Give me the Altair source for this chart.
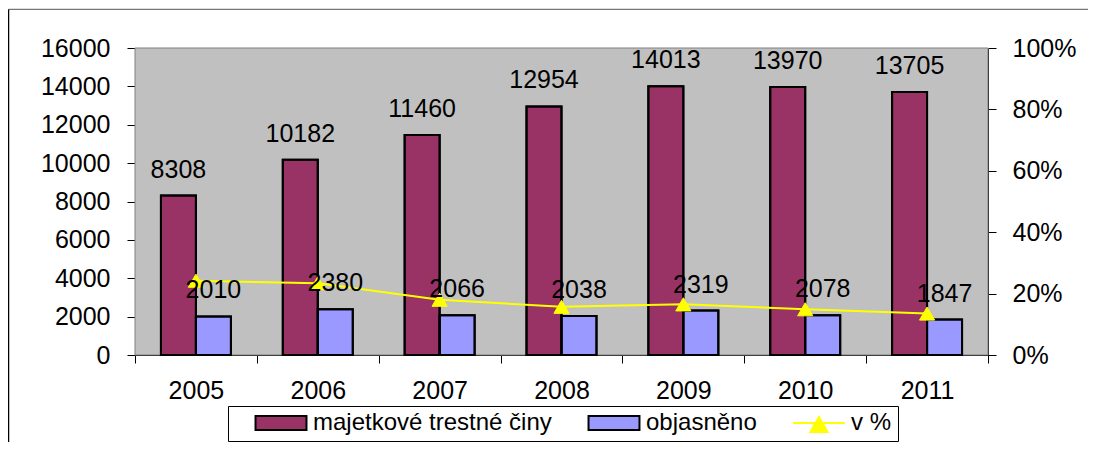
import altair as alt
import pandas as pd

FONT = "Liberation Sans"

years = ["2005", "2006", "2007", "2008", "2009", "2010", "2011"]
majetkove = [8308, 10182, 11460, 12954, 14013, 13970, 13705]
objasneno = [2010, 2380, 2066, 2038, 2319, 2078, 1847]
v_pct = [0.242, 0.234, 0.180, 0.157, 0.165, 0.149, 0.135]

S_MAJ = "majetkové trestné činy"
S_OBJ = "objasněno"
S_PCT = "v %"
series_names = [S_MAJ, S_OBJ, S_PCT]
fill_colors = ["#993366", "#9999FF", "#FFFF00"]
stroke_colors = ["#000000", "#000000", "#FFFF00"]

left_ticks = [0, 2000, 4000, 6000, 8000, 10000, 12000, 14000, 16000]
right_ticks = [0, 0.2, 0.4, 0.6, 0.8, 1.0]

bars_df = pd.DataFrame({
    "year": years + years,
    "series": [S_MAJ] * len(years) + [S_OBJ] * len(years),
    "value": majetkove + objasneno,
})
pct_df = pd.DataFrame({"year": years, "series": [S_PCT] * len(years), "pct": v_pct})
legend_df = pd.DataFrame({"series": series_names})

RECT_PATH = "M-0.98,-0.27H0.98V0.27H-0.98Z"
LINE_TRI_PATH = "M-1,0H1M-0.33,0.35L0,-0.23L0.33,0.35Z"

W, H = 853, 307
PAD = {"left": 127, "top": 40, "right": 100, "bottom": 87}

x_scale = alt.Scale(domain=years, paddingInner=0, paddingOuter=0)
xoff_scale = alt.Scale(domain=[S_MAJ, S_OBJ], paddingInner=0, paddingOuter=0.741)
fill_scale = alt.Scale(domain=series_names, range=fill_colors)
stroke_scale = alt.Scale(domain=series_names, range=stroke_colors)
shape_scale = alt.Scale(domain=series_names, range=[RECT_PATH, RECT_PATH, LINE_TRI_PATH])

x_axis = alt.Axis(title=None, labelAngle=0, labelPadding=15, ticks=True, tickBand="extent",
                  tickSize=8, domainColor="black", tickColor="black", tickWidth=1)
x_enc = alt.X("year:N", scale=x_scale, axis=x_axis)

y_scale_left = alt.Scale(domain=[0, 16000], nice=False, zero=True)
y_left = alt.Y("value:Q", scale=y_scale_left,
               axis=alt.Axis(title=None, orient="left", values=left_ticks, format="d",
                             labelPadding=17, tickSize=8, grid=False, labelOverlap=False))
y_right = alt.Y("pct:Q", scale=alt.Scale(domain=[0, 1], nice=False),
                axis=alt.Axis(title=None, orient="right", values=right_ticks, format=".0%",
                              labelPadding=16, tickSize=8, grid=False, labelOverlap=False))

fill_enc = alt.Fill("series:N", scale=fill_scale, title=None)
stroke_enc = alt.Stroke("series:N", scale=stroke_scale, title=None)

frame_df = pd.DataFrame({"k": [0]})

# outer chart frame (left and top edges, kept inside the drawing) and grey plot background
frame_left = alt.Chart(frame_df).mark_rule(color="#000000", strokeWidth=1.5).encode(
    x=alt.value(-126.5), y=alt.value(-38.7), y2=alt.value(H + PAD["bottom"])
)
frame_top = alt.Chart(frame_df).mark_rule(color="#555555", strokeWidth=1).encode(
    x=alt.value(-126.5), x2=alt.value(W + PAD["right"]), y=alt.value(-38.7)
)
plot_bg = alt.Chart(frame_df).mark_rect(fill="#C0C0C0", stroke="#808080", strokeWidth=1).encode(
    x=alt.value(0), x2=alt.value(W), y=alt.value(0), y2=alt.value(H)
)

bars = alt.Chart(bars_df).mark_bar(stroke="#000000", strokeWidth=2).encode(
    x=x_enc,
    xOffset=alt.XOffset("series:N", scale=xoff_scale),
    y=y_left,
    fill=fill_enc,
)

# black outlines of the bars, on their own (same-domain) y scale without an axis
bar_outline = alt.Chart(bars_df).mark_bar(
    filled=False, color="#000000", stroke="#000000", strokeWidth=2,
    strokeOpacity=1, opacity=1
).encode(
    x=x_enc,
    xOffset=alt.XOffset("series:N", scale=xoff_scale),
    y=alt.Y("value:Q", scale=y_scale_left, axis=None),
)

legend_layer = alt.Chart(legend_df).mark_point(filled=True, opacity=0).encode(
    fill=fill_enc,
    stroke=stroke_enc,
    shape=alt.Shape("series:N", scale=shape_scale, title=None),
)

line = alt.Chart(pct_df).mark_line(color="#FFFF00", strokeWidth=2).encode(
    x=x_enc, y=y_right
)
points = alt.Chart(pct_df).mark_point(
    filled=True, shape="triangle-up", size=230, fill="#FFFF00", stroke="#FFFF00",
    strokeWidth=1, opacity=1
).encode(
    x=x_enc, y=y_right
)

labels = alt.Chart(bars_df).mark_text(
    font=FONT, fontSize=25, color="black", baseline="alphabetic", dy=-18
).encode(
    x=x_enc,
    xOffset=alt.XOffset("series:N", scale=xoff_scale),
    y=alt.Y("value:Q", scale=y_scale_left, axis=None),
    text=alt.Text("value:Q", format="d"),
)

left_group = alt.layer(frame_left, frame_top, plot_bg, bars, legend_layer)
right_group = alt.layer(line, points)

chart = alt.layer(left_group, bar_outline, right_group, labels).resolve_scale(
    y="independent"
).properties(
    width=W, height=H,
    padding=PAD,
    autosize=alt.AutoSizeParams(type="none"),
).configure_view(
    stroke="transparent", strokeWidth=0
).configure_axis(
    labelFont=FONT, labelFontSize=25, labelColor="black", zindex=1,
    tickColor="black", domainColor="black", domainWidth=1, tickWidth=1, grid=False,
).configure_legend(
    orient="none", legendX=93, legendY=358, direction="horizontal",
    strokeColor="black", fillColor="white", padding=6,
    symbolSize=2704, symbolStrokeWidth=2, symbolOpacity=1,
    labelFont=FONT, labelFontSize=24, labelColor="black", labelOffset=5,
    labelLimit=600, columnPadding=15, symbolOffset=20, clipHeight=22,
)

chart.save("out.html", embed_options={"renderer": "svg", "actions": False})
